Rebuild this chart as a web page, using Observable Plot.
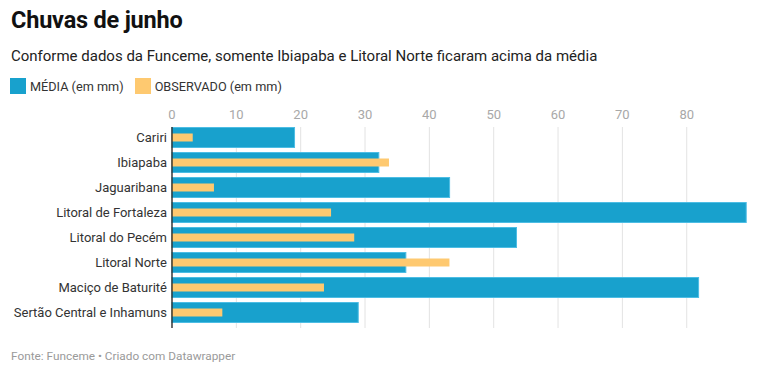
<!DOCTYPE html>
<html>
<head>
<meta charset="utf-8">
<script src="https://cdn.jsdelivr.net/npm/d3@7"></script>
<script src="https://cdn.jsdelivr.net/npm/@observablehq/plot@0.6"></script>
<style>
  body { margin: 0; background: #fff; font-family: Roboto, sans-serif; width: 768px; height: 373px; overflow: hidden; }
  h1 { margin: 0; position: absolute; top: 6px; left: 11px; font-size: 23.5px; font-weight: 700; color: #111; letter-spacing: -0.2px; }
  .sub { position: absolute; top: 47px; left: 11px; font-size: 15px; color: #222; }
  .legend { position: absolute; top: 78px; left: 10px; font-size: 12.7px; color: #333; display: flex; align-items: center; }
  .legend span.sw { display: inline-block; width: 16px; height: 16px; margin-right: 4px; }
  .legend .item { display: flex; align-items: center; margin-right: 11px; }
  #chart { position: absolute; top: 100px; left: 0; }
  .cap { position: absolute; top: 349px; left: 11px; font-size: 11.8px; color: #9a9a9a; }
</style>
</head>
<body>
<h1>Chuvas de junho</h1>
<div class="sub">Conforme dados da Funceme, somente Ibiapaba e Litoral Norte ficaram acima da média</div>
<div class="legend">
  <div class="item"><span class="sw" style="background:#18a1cd"></span>MÉDIA (em mm)</div>
  <div class="item"><span class="sw" style="background:#fec970"></span>OBSERVADO (em mm)</div>
</div>
<div id="chart"></div>
<div class="cap">Fonte: Funceme • Criado com Datawrapper</div>
<script>
const regions = ["Cariri", "Ibiapaba", "Jaguaribana", "Litoral de Fortaleza", "Litoral do Pecém", "Litoral Norte", "Maciço de Baturité", "Sertão Central e Inhamuns"];
const media = [19.2, 32.3, 43.3, 89.4, 53.7, 36.5, 82.0, 29.1];
const observado = [3.3, 33.8, 6.6, 24.8, 28.4, 43.2, 23.7, 7.9];
const xTicks = [0, 10, 20, 30, 40, 50, 60, 70, 80];

const mediaData = regions.map((r, i) => ({region: r, value: media[i]}));
const obsData = regions.map((r, i) => ({region: r, value: observado[i]}));

const chart = Plot.plot({
  width: 768,
  height: 230,
  marginTop: 27,
  marginBottom: 2,
  marginLeft: 171.5,
  marginRight: 21.3,
  style: {fontFamily: "Roboto, sans-serif", fontSize: "13px", background: "transparent"},
  x: {domain: [0, d3.max(media)], axis: null},
  y: {domain: regions, paddingInner: 0.18, paddingOuter: 0, align: 0, axis: null},
  marks: [
    Plot.ruleX(xTicks, {stroke: "#e3e3e3", strokeWidth: 1}),
    Plot.axisX(xTicks, {anchor: "top", tickSize: 0, tickPadding: 9, fill: "#a8a8a8", fontSize: 13, label: null}),
    Plot.axisY({anchor: "left", tickSize: 0, tickPadding: 5, fill: "#333", fontSize: 13, label: null}),
    Plot.barX(mediaData, {x: "value", y: "region", fill: "#18a1cd", stroke: "#4dbde4", strokeWidth: 1, inset: 0.5}),
    Plot.barX(obsData, {x: "value", y: "region", fill: "#fec970", insetTop: 6.5, insetBottom: 6.5}),
    Plot.ruleX([0], {stroke: "#222", strokeWidth: 1.3})
  ]
});
document.getElementById("chart").appendChild(chart);
</script>
</body>
</html>
